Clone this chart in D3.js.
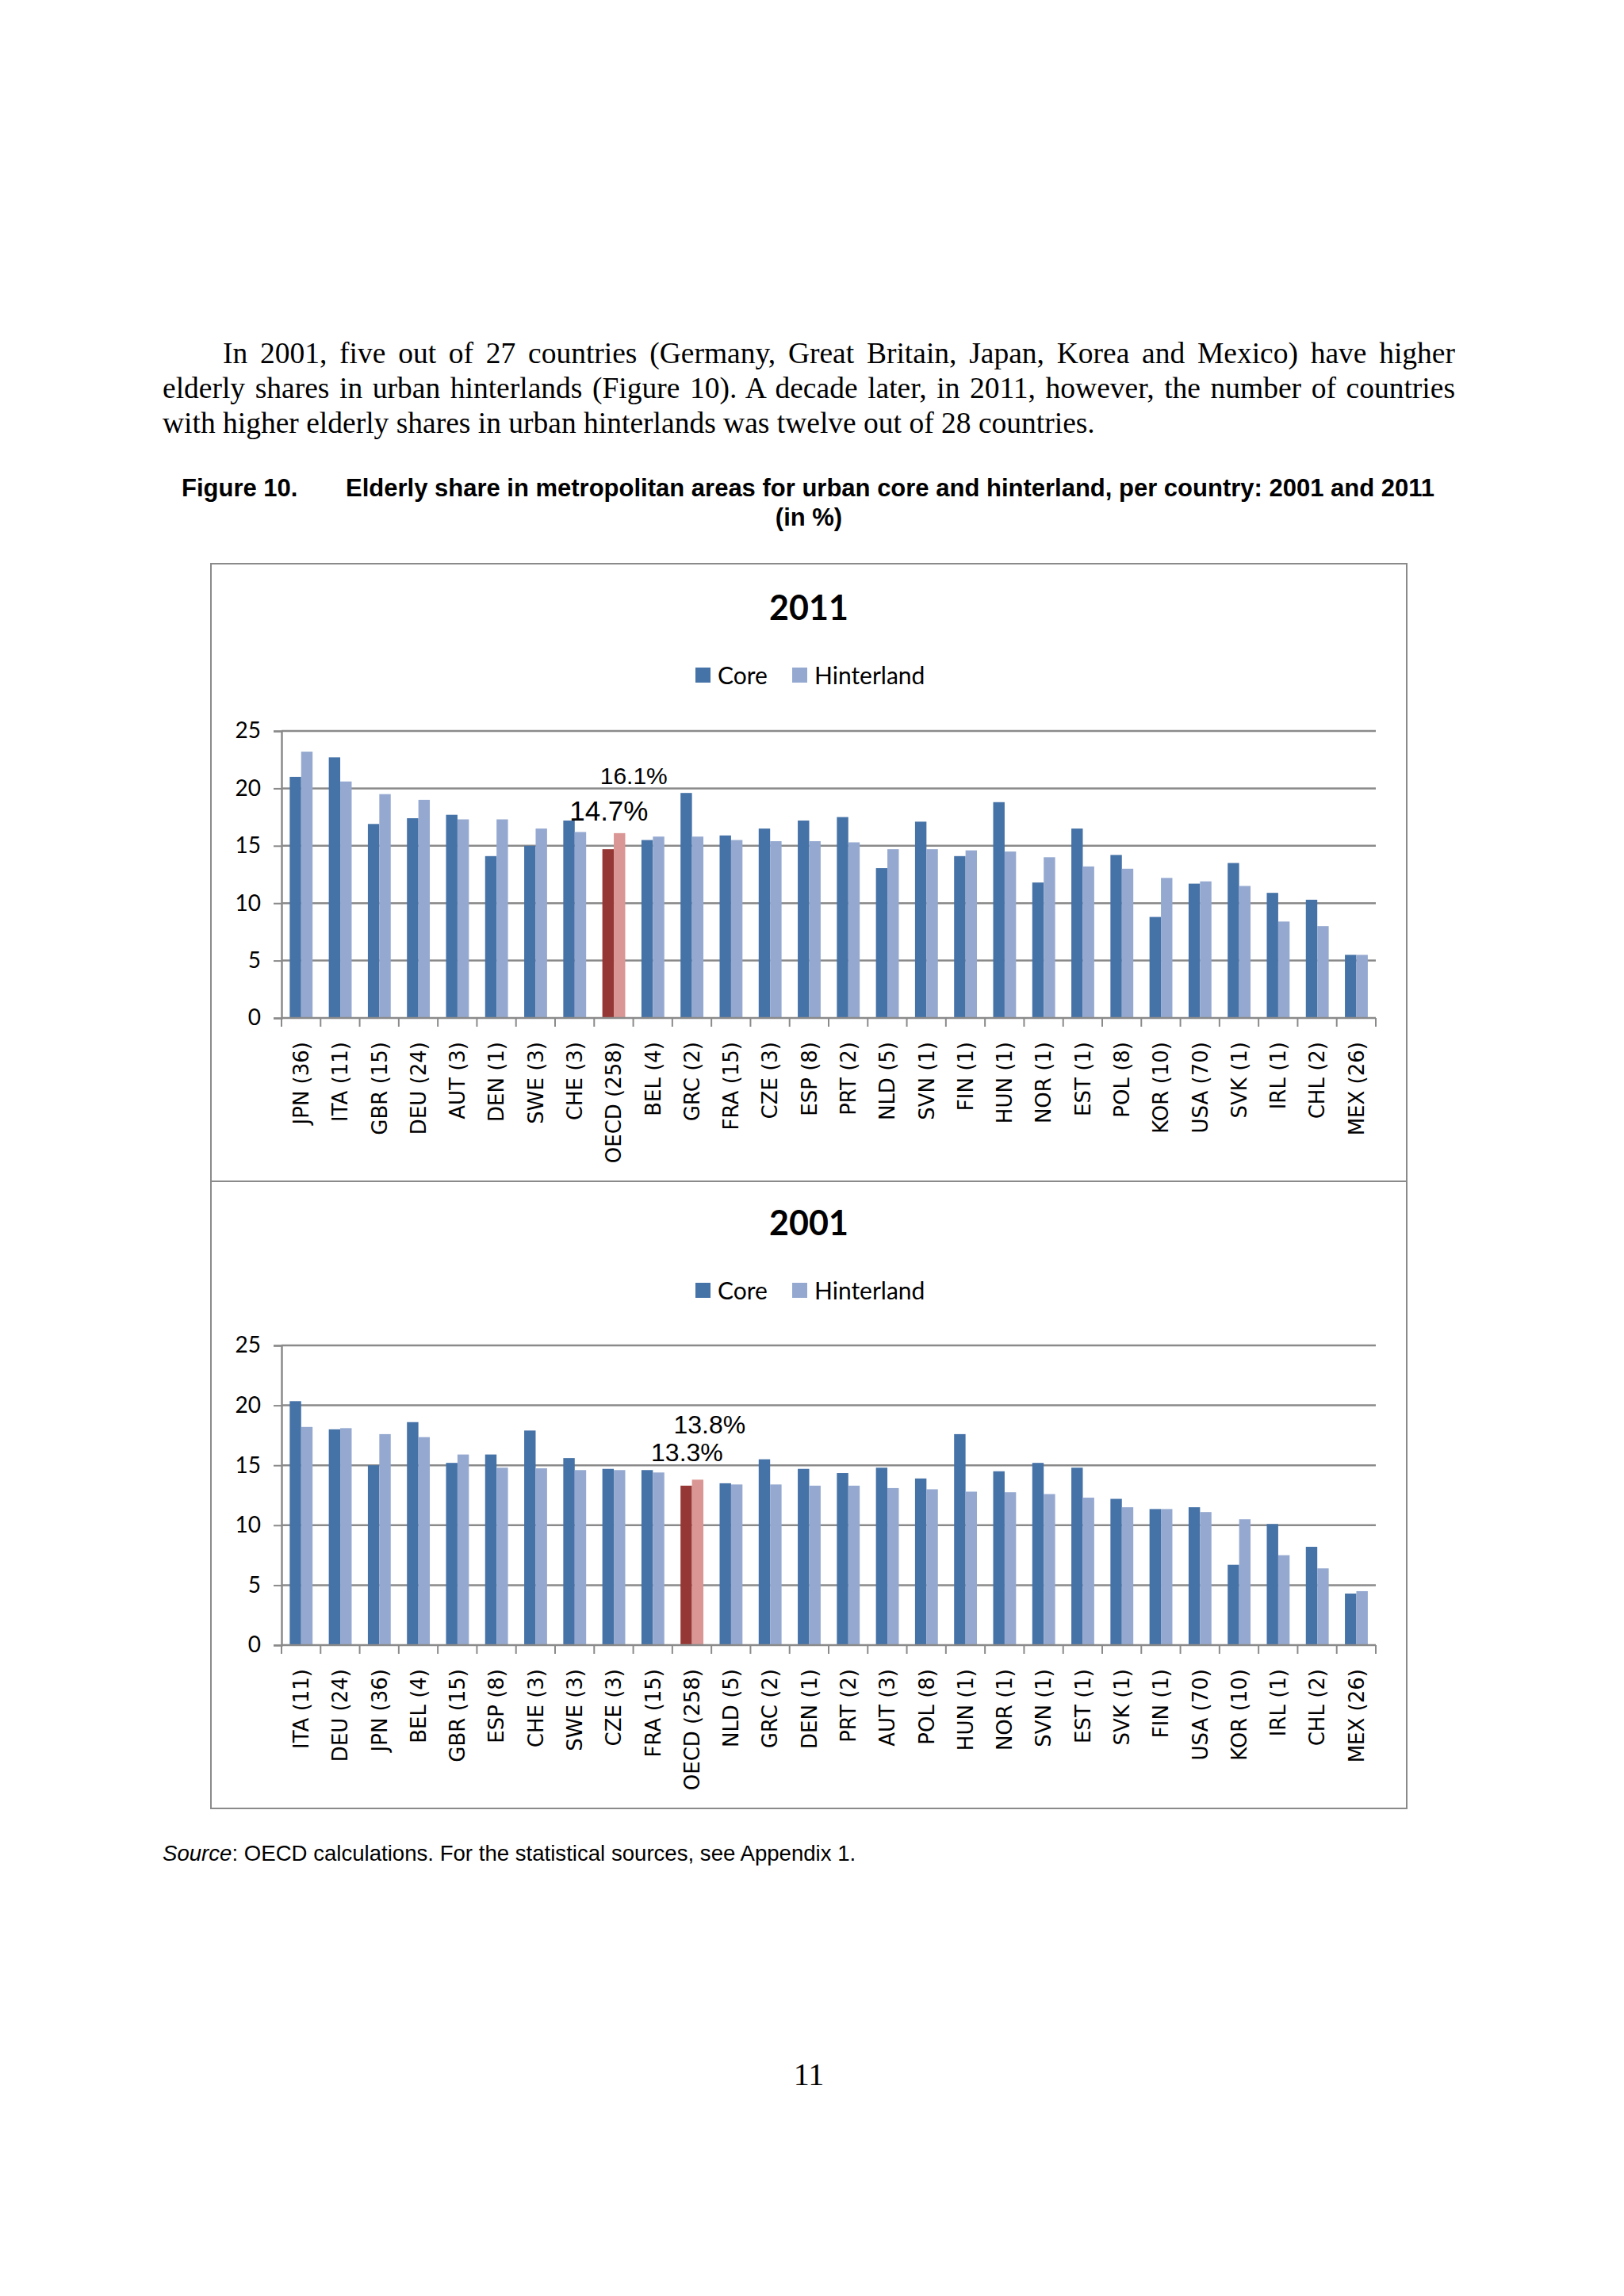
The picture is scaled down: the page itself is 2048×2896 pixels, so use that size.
<!DOCTYPE html>
<html>
<head>
<meta charset="utf-8">
<script src="https://cdn.jsdelivr.net/npm/d3@7"></script>
<style>
  body { margin: 0; background: #fff; }
  #page { position: relative; width: 2048px; height: 2896px; background: #fff; }
  .para {
    position: absolute; left: 205px; top: 424px; width: 1630px;
    font-family: "Liberation Serif", "Times New Roman", serif; font-size: 37.5px;
    line-height: 44px; text-align: justify; text-indent: 76px; color: #000;
  }
  svg { position: absolute; left: 0; top: 0; }
</style>
</head>
<body>
<div id="page">
  <div class="para">In 2001, five out of 27 countries (Germany, Great Britain, Japan, Korea and Mexico) have higher elderly shares in urban hinterlands (Figure 10). A decade later, in 2011, however, the number of countries with higher elderly shares in urban hinterlands was twelve out of 28 countries.</div>
</div>
<script>
// 2011 panel
const cats2011 = ['JPN (36)', 'ITA (11)', 'GBR (15)', 'DEU (24)', 'AUT (3)', 'DEN (1)', 'SWE (3)', 'CHE (3)',
  'OECD (258)', 'BEL (4)', 'GRC (2)', 'FRA (15)', 'CZE (3)', 'ESP (8)', 'PRT (2)', 'NLD (5)', 'SVN (1)',
  'FIN (1)', 'HUN (1)', 'NOR (1)', 'EST (1)', 'POL (8)', 'KOR (10)', 'USA (70)', 'SVK (1)', 'IRL (1)',
  'CHL (2)', 'MEX (26)'];
const core2011 = [21.0, 22.7, 16.9, 17.4, 17.7, 14.1, 15.0, 17.2, 14.7, 15.5, 19.6, 15.9, 16.5, 17.2,
  17.5, 13.05, 17.1, 14.1, 18.8, 11.8, 16.5, 14.2, 8.8, 11.7, 13.5, 10.9, 10.3, 5.5];
const hint2011 = [23.2, 20.6, 19.5, 19.0, 17.3, 17.3, 16.5, 16.2, 16.1, 15.8, 15.8, 15.5, 15.4, 15.4,
  15.3, 14.7, 14.7, 14.6, 14.5, 14.0, 13.2, 13.0, 12.2, 11.9, 11.5, 8.4, 8.0, 5.5];

// 2001 panel
const cats2001 = ['ITA (11)', 'DEU (24)', 'JPN (36)', 'BEL (4)', 'GBR (15)', 'ESP (8)', 'CHE (3)', 'SWE (3)',
  'CZE (3)', 'FRA (15)', 'OECD (258)', 'NLD (5)', 'GRC (2)', 'DEN (1)', 'PRT (2)', 'AUT (3)', 'POL (8)',
  'HUN (1)', 'NOR (1)', 'SVN (1)', 'EST (1)', 'SVK (1)', 'FIN (1)', 'USA (70)', 'KOR (10)', 'IRL (1)',
  'CHL (2)', 'MEX (26)'];
const core2001 = [20.35, 18.0, 15.0, 18.6, 15.2, 15.9, 17.9, 15.6, 14.7, 14.6, 13.3, 13.5, 15.5, 14.7,
  14.35, 14.8, 13.9, 17.6, 14.5, 15.2, 14.8, 12.2, 11.35, 11.5, 6.7, 10.1, 8.2, 4.3];
const hint2001 = [18.2, 18.1, 17.6, 17.35, 15.9, 14.8, 14.75, 14.6, 14.6, 14.4, 13.8, 13.4, 13.4, 13.3,
  13.3, 13.1, 13.0, 12.8, 12.75, 12.6, 12.3, 11.5, 11.35, 11.1, 10.5, 7.5, 6.4, 4.5];

const yTicks = [0, 5, 10, 15, 20, 25];
const seriesNames = ['Core', 'Hinterland'];
const colors = { Core: '#4572a7', Hinterland: '#95a9d0' };
const oecdColors = { Core: '#953735', Hinterland: '#d99694' };

const gridColor = '#8a8a8a';
const uiFont = 'Lato, "Open Sans", sans-serif';

const svg = d3.select('#page').append('svg')
  .attr('width', 2048)
  .attr('height', 2896);

// caption
const cap = svg.append('g')
  .style('font-family', '"Liberation Sans", Arial, sans-serif')
  .style('font-weight', 'bold')
  .style('font-size', '31px');
cap.append('text').attr('x', 229).attr('y', 626).text('Figure 10.');
cap.append('text').attr('x', 436).attr('y', 626)
  .text('Elderly share in metropolitan areas for urban core and hinterland, per country: 2001 and 2011');
cap.append('text').attr('x', 1020).attr('y', 663).attr('text-anchor', 'middle').text('(in %)');

// frame round both panels
svg.append('rect')
  .attr('x', 266).attr('y', 711)
  .attr('width', 1508).attr('height', 1570)
  .attr('fill', 'none').attr('stroke', '#8a8a8a').attr('stroke-width', 2);
svg.append('line')
  .attr('x1', 266).attr('x2', 1774).attr('y1', 1490).attr('y2', 1490)
  .attr('stroke', '#8a8a8a').attr('stroke-width', 2);

function drawPanel(opts) {
  const { title, cats, core, hint, top, plotTop, plotBottom, oecdLabels } = opts;
  const left = 355, right = 1735;
  const g = svg.append('g');

  g.append('text')
    .attr('x', 1020).attr('y', top + 15)
    .attr('text-anchor', 'middle')
    .style('font-family', uiFont).style('font-weight', 'bold').style('font-size', '43px')
    .text(title);

  // legend
  const leg = g.append('g').attr('transform', 'translate(0,' + (top + 85) + ')');
  const legX = [877, 999];
  seriesNames.forEach(function(s, i) {
    leg.append('rect').attr('x', legX[i]).attr('y', -10).attr('width', 19).attr('height', 19)
      .attr('fill', colors[s]);
    leg.append('text').attr('x', legX[i] + 28).attr('y', 11)
      .style('font-family', uiFont).style('font-size', '30px')
      .text(s);
  });

  const x = d3.scaleBand().domain(cats).range([left, right]);
  const y = d3.scaleLinear().domain([0, 25]).range([plotBottom, plotTop]);
  const bw = x.bandwidth();
  const xs = d3.scaleBand().domain(seriesNames).range([bw * 0.21, bw * 0.795]);

  // gridlines
  g.append('g')
    .selectAll('line')
    .data(yTicks.slice(1))
    .enter()
    .append('line')
    .attr('x1', left).attr('x2', right)
    .attr('y1', function(d) { return y(d); })
    .attr('y2', function(d) { return y(d); })
    .attr('stroke', gridColor).attr('stroke-width', 2.5);

  // bars
  const rows = cats.map(function(c, i) { return { cat: c, Core: core[i], Hinterland: hint[i] }; });
  const groups = g.append('g')
    .selectAll('g')
    .data(rows)
    .enter()
    .append('g')
    .attr('transform', function(d) { return 'translate(' + x(d.cat) + ',0)'; });
  groups.selectAll('rect')
    .data(function(d) {
      return seriesNames.map(function(s) { return { s: s, v: d[s], oecd: d.cat.indexOf('OECD') === 0 }; });
    })
    .enter()
    .append('rect')
    .attr('x', function(d) { return xs(d.s); })
    .attr('width', xs.bandwidth())
    .attr('y', function(d) { return y(d.v); })
    .attr('height', function(d) { return plotBottom - y(d.v); })
    .attr('fill', function(d) { return d.oecd ? oecdColors[d.s] : colors[d.s]; });

  // y axis
  const yAxis = g.append('g')
    .attr('transform', 'translate(' + left + ',0)')
    .call(d3.axisLeft(y).tickValues(yTicks).tickSize(10).tickPadding(16));
  yAxis.select('.domain').attr('stroke', gridColor).attr('stroke-width', 2.5);
  yAxis.selectAll('.tick line').attr('stroke', gridColor).attr('stroke-width', 2);
  yAxis.selectAll('.tick text')
    .style('font-family', uiFont).style('font-size', '28px').attr('fill', '#000');

  // x axis: ticks on category boundaries
  g.append('line')
    .attr('x1', left).attr('x2', right).attr('y1', plotBottom).attr('y2', plotBottom)
    .attr('stroke', gridColor).attr('stroke-width', 2.5);
  g.append('g')
    .selectAll('line')
    .data(cats.concat(['__end']))
    .enter()
    .append('line')
    .attr('x1', function(d) { return d === '__end' ? right : x(d); })
    .attr('x2', function(d) { return d === '__end' ? right : x(d); })
    .attr('y1', plotBottom).attr('y2', plotBottom + 11)
    .attr('stroke', gridColor).attr('stroke-width', 2);

  g.append('g')
    .selectAll('text')
    .data(cats)
    .enter()
    .append('text')
    .attr('transform', function(d) {
      return 'translate(' + (x(d) + bw / 2) + ',' + (plotBottom + 30) + ') rotate(-90)';
    })
    .attr('text-anchor', 'end')
    .attr('dy', '0.36em')
    .style('font-family', '"DejaVu Sans", Verdana, sans-serif')
    .style('font-size', '26px')
    .text(function(d) { return d; });

  // OECD value labels
  const oecdCat = cats.find(function(c) { return c.indexOf('OECD') === 0; });
  const oi = cats.indexOf(oecdCat);
  oecdLabels.forEach(function(l) {
    const v = l.s === 'Core' ? core[oi] : hint[oi];
    g.append('text')
      .attr('x', x(oecdCat) + xs(l.s) + xs.bandwidth() / 2 + l.dx)
      .attr('y', y(v) - l.lift)
      .attr('text-anchor', 'middle')
      .style('font-family', '"Liberation Sans", Arial, sans-serif')
      .style('font-size', l.size + 'px')
      .text(v.toFixed(1) + '%');
  });
}

drawPanel({
  title: '2011', cats: cats2011, core: core2011, hint: hint2011,
  top: 767, plotTop: 922, plotBottom: 1284,
  oecdLabels: [{ s: 'Hinterland', dx: 18, lift: 62, size: 30 }, { s: 'Core', dx: 1, lift: 36, size: 35 }]
});
drawPanel({
  title: '2001', cats: cats2001, core: core2001, hint: hint2001,
  top: 1543, plotTop: 1697, plotBottom: 2075,
  oecdLabels: [{ s: 'Hinterland', dx: 15, lift: 58, size: 32 }, { s: 'Core', dx: 1, lift: 31, size: 32 }]
});

// source note
const src = svg.append('text')
  .attr('x', 205).attr('y', 2347)
  .style('font-family', '"Liberation Sans", Arial, sans-serif')
  .style('font-size', '27.6px');
src.append('tspan').style('font-style', 'italic').text('Source');
src.append('tspan').text(': OECD calculations. For the statistical sources, see Appendix 1.');

svg.append('text')
  .attr('x', 1020).attr('y', 2630)
  .attr('text-anchor', 'middle')
  .style('font-family', '"Liberation Serif", "Times New Roman", serif')
  .style('font-size', '40px')
  .text('11');
</script>
</body>
</html>
